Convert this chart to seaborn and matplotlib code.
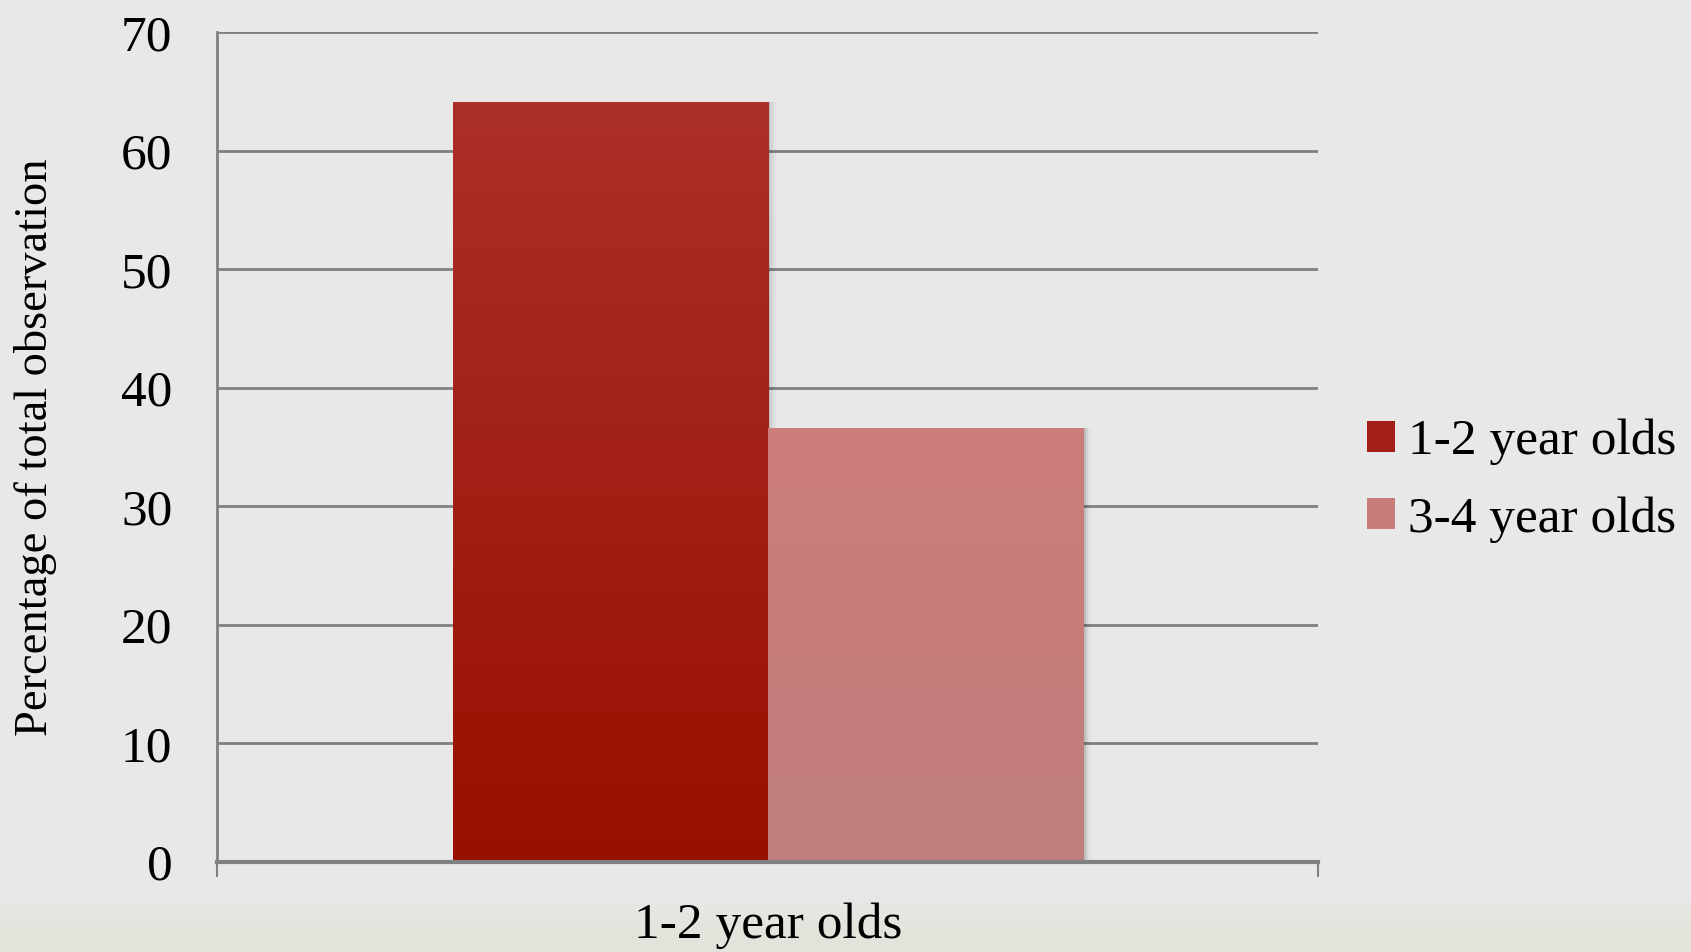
import numpy as np
import pandas as pd
import seaborn as sns
import matplotlib.pyplot as plt
from matplotlib.colors import LinearSegmentedColormap
from matplotlib import patheffects as pe

# Data
groups = ["1-2 year olds"]
series = ["1-2 year olds", "3-4 year olds"]
values = [64.1, 36.6]
y_ticks = [0, 10, 20, 30, 40, 50, 60, 70]

# Bar colours (top and bottom of the vertical gradient)
top_colors = ["#ab2f29", "#ce7d79"]
bottom_colors = ["#981000", "#bf7e7c"]
legend_colors = ["#a31e16", "#c77d7a"]

df = pd.DataFrame({
    "group": groups * len(series),
    "series": series,
    "value": values,
})

sns.set_theme(style="white")
plt.rcParams["font.family"] = ["Liberation Serif", "DejaVu Serif"]

fig = plt.figure(figsize=(16.91, 9.52), dpi=100)

# Paper-like backdrop with a faint warm band along the bottom edge
bg = fig.add_axes([0, 0, 1, 1], zorder=-10)
rows = 952
shade = np.ones((rows, 1, 3))
base = np.array([232, 232, 232]) / 255.0
warm = np.array([227, 227, 219]) / 255.0
for r in range(rows):
    t = r / (rows - 1)  # 0 at the top, 1 at the bottom
    if t < 0.94:
        c = base
    else:
        k = min(1.0, (t - 0.94) / 0.045)
        c = base * (1 - k) + warm * k
    shade[r, 0, :] = c
bg.imshow(shade, aspect="auto", extent=[0, 1, 0, 1], origin="upper")
bg.set_axis_off()

ax = fig.add_axes([0.1286, 0.0948, 0.6508, 0.8713])
ax.set_facecolor("none")

sns.barplot(
    data=df, x="group", y="value", hue="series",
    palette=legend_colors, width=0.5725, dodge=True,
    saturation=1, ax=ax, errorbar=None,
)

# Gradient fill clipped to each bar, with a soft shadow to the right
grad = np.linspace(0, 1, 256).reshape(-1, 1)
bars = [p for p in ax.patches if p.get_height() > 0]
for i, patch in enumerate(bars):
    patch.set_edgecolor("none")
    patch.set_path_effects([
        pe.SimplePatchShadow(offset=(2, 0), shadow_rgbFace="black", alpha=0.10),
        pe.SimplePatchShadow(offset=(4, 0), shadow_rgbFace="black", alpha=0.06),
        pe.SimplePatchShadow(offset=(6, 0), shadow_rgbFace="black", alpha=0.03),
        pe.Normal(),
    ])
    cmap = LinearSegmentedColormap.from_list(
        f"bar{i}", [bottom_colors[i % 2], top_colors[i % 2]])
    x0, w, h = patch.get_x(), patch.get_width(), patch.get_height()
    im = ax.imshow(grad, cmap=cmap, aspect="auto", origin="lower",
                   extent=[x0, x0 + w, 0, h], zorder=patch.get_zorder() + 0.1)
    im.set_clip_path(patch)

ax.set_xlim(-0.5, 0.5)
ax.set_ylim(0, 70)
ax.set_yticks(y_ticks)
ax.set_yticklabels([str(v) for v in y_ticks])

grid_col = "#808080"
ax.yaxis.grid(True, color=grid_col, linewidth=2)
ax.set_axisbelow(True)

for side in ["top", "right"]:
    ax.spines[side].set_visible(False)
ax.spines["left"].set_color(grid_col)
ax.spines["left"].set_linewidth(2)
ax.spines["bottom"].set_color(grid_col)
ax.spines["bottom"].set_linewidth(3)
ax.spines["bottom"].set_zorder(5)

ax.tick_params(axis="y", direction="out", length=11.5, width=1.5,
               color=grid_col, pad=21, labelsize=37, labelcolor="black")
ax.set_xticks([0])
ax.set_xticklabels(groups)
ax.set_xticks([-0.5, 0.5], minor=True)
ax.tick_params(axis="x", which="major", length=0, pad=29,
               labelsize=37, labelcolor="black")
ax.tick_params(axis="x", which="minor", direction="out", length=11,
               width=1.5, color=grid_col, bottom=True)

ax.set_xlabel("")
ax.set_ylabel("Percentage of total observation", fontsize=33.5, color="black")
ax.yaxis.set_label_coords(-0.165, 0.5)
ax.yaxis.label.set_verticalalignment("center")

handles, labels = ax.get_legend_handles_labels()
leg = ax.legend(
    handles, labels, loc="center left",
    bbox_to_anchor=(1367 / 1691, 0.495), bbox_transform=fig.transFigure,
    frameon=False, fontsize=37, handlelength=0.55, handleheight=0.55,
    handletextpad=0.25, labelspacing=0.6, borderpad=0, borderaxespad=0,
)
for t in leg.get_texts():
    t.set_color("black")
for h in leg.legend_handles:
    h.set_edgecolor("none")

fig.savefig("out.png", dpi=100, facecolor=fig.get_facecolor())
